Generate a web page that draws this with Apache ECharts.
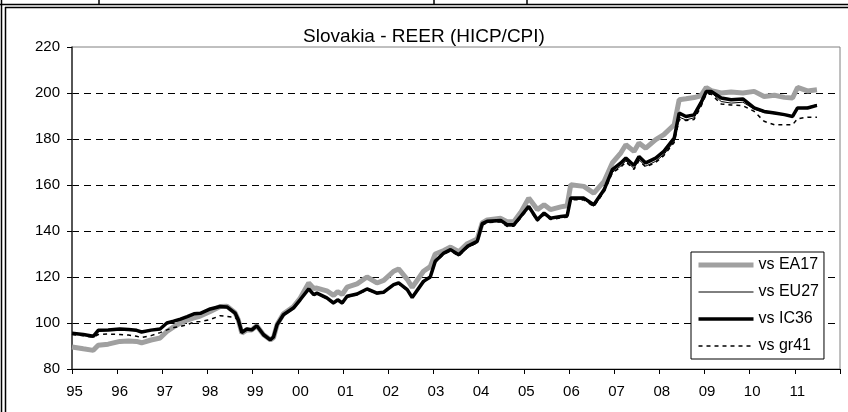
<!DOCTYPE html>
<html>
<head>
<meta charset="utf-8">
<script src="https://cdn.jsdelivr.net/npm/echarts@6/dist/echarts.min.js"></script>
<style>
	html, body { margin: 0; padding: 0; background: #fff; }
	#chart { width: 848px; height: 412px; }
</style>
</head>
<body>
<div id="chart"></div>
<script>
// time points (fractional years)
const years = [
	1995.00, 1995.25, 1995.47, 1995.58, 1995.80, 1996.06, 1996.25, 1996.43, 1996.54, 1996.75,
	1996.95, 1997.10, 1997.25, 1997.40, 1997.55, 1997.70, 1997.84, 1998.06, 1998.28, 1998.43,
	1998.61, 1998.68, 1998.76, 1998.87, 1998.98, 1999.09, 1999.24, 1999.39, 1999.46, 1999.54,
	1999.68, 1999.90, 2000.05, 2000.24, 2000.35, 2000.42, 2000.64, 2000.79, 2000.88, 2000.98,
	2001.09, 2001.31, 2001.53, 2001.75, 2001.90, 2002.12, 2002.23, 2002.42, 2002.53, 2002.78,
	2002.93, 2003.04, 2003.23, 2003.38, 2003.56, 2003.75, 2003.97, 2004.08, 2004.19, 2004.49,
	2004.63, 2004.78, 2004.93, 2005.11, 2005.30, 2005.45, 2005.59, 2005.82, 2005.96, 2006.04,
	2006.33, 2006.55, 2006.78, 2006.96, 2007.15, 2007.26, 2007.44, 2007.55, 2007.70, 2007.92,
	2008.10, 2008.33, 2008.44, 2008.59, 2008.77, 2008.92, 2009.04, 2009.15, 2009.37, 2009.59,
	2009.85, 2010.10, 2010.32, 2010.55, 2010.77, 2010.95, 2011.06, 2011.28, 2011.49
];

const ea17 = [
	89.6, 88.8, 88.1, 90.3, 90.8, 92.0, 92.2, 92.0, 91.4, 92.6,
	93.5, 96.3, 98.3, 100.0, 101.3, 102.2, 103.0, 105.0, 107.2, 107.3,
	104.5, 101.4, 95.6, 97.0, 97.0, 98.8, 94.9, 92.7, 93.6, 99.3,
	104.0, 107.0, 110.8, 117.4, 115.0, 115.2, 114.0, 112.0, 113.6, 112.4,
	115.6, 117.0, 120.0, 117.4, 118.5, 122.5, 123.5, 119.0, 115.5, 122.5,
	124.5, 130.0, 131.5, 133.0, 131.0, 134.5, 136.5, 143.5, 144.8, 145.5,
	144.0, 144.0, 148.0, 154.3, 149.3, 151.4, 149.3, 150.5, 151.0, 160.1,
	159.4, 156.5, 161.6, 169.6, 174.0, 177.5, 174.6, 178.3, 176.0, 179.7,
	181.9, 186.2, 197.1, 197.5, 198.0, 198.8, 202.4, 201.0, 200.0, 200.4,
	200.0, 200.7, 198.5, 199.0, 198.1, 197.8, 202.4, 200.9, 201.4
];

const eu27 = [
	95.3, 94.8, 94.0, 96.5, 96.8, 97.1, 97.0, 96.5, 95.9, 96.7,
	97.2, 99.6, 100.4, 101.3, 102.5, 103.7, 104.0, 105.8, 107.0, 106.8,
	104.2, 101.3, 95.8, 97.3, 96.9, 98.7, 94.8, 92.6, 93.8, 99.2,
	103.5, 106.4, 110.0, 114.6, 112.0, 112.8, 110.6, 108.3, 109.8, 108.4,
	111.3, 112.3, 114.5, 112.7, 113.1, 116.4, 117.1, 114.2, 110.9, 117.8,
	119.7, 126.4, 130.0, 131.5, 129.2, 132.8, 135.0, 142.8, 143.8, 144.2,
	142.2, 142.3, 145.8, 150.2, 144.5, 147.3, 145.2, 145.9, 146.2, 153.8,
	153.8, 150.8, 157.2, 165.5, 168.3, 170.5, 167.2, 171.0, 168.2, 170.3,
	173.2, 179.0, 189.5, 188.3, 189.2, 194.5, 200.0, 200.2, 196.3, 195.6,
	196.0, 193.0, 191.5, 191.0, 190.4, 189.8, 193.6, 193.8, 195.0
];

const ic36 = [
	95.5, 95.0, 94.2, 96.8, 97.0, 97.4, 97.2, 96.8, 96.1, 96.9,
	97.4, 100.0, 100.8, 101.7, 102.8, 104.0, 104.2, 106.1, 107.2, 107.0,
	104.3, 101.4, 95.9, 97.4, 97.0, 98.8, 94.9, 92.7, 93.9, 99.3,
	103.6, 106.5, 110.1, 114.8, 112.3, 113.0, 110.9, 108.7, 110.1, 108.7,
	111.6, 112.6, 114.8, 113.0, 113.4, 116.7, 117.4, 114.5, 111.1, 118.1,
	120.0, 126.8, 130.4, 131.9, 129.7, 133.3, 135.5, 143.2, 144.2, 144.6,
	142.7, 142.7, 146.3, 150.7, 144.9, 147.8, 145.6, 146.3, 146.6, 154.3,
	154.3, 151.4, 158.0, 166.7, 169.6, 171.7, 168.5, 172.4, 169.6, 171.7,
	174.6, 180.4, 191.3, 189.8, 190.5, 195.7, 200.7, 200.7, 197.8, 197.1,
	197.4, 193.5, 192.0, 191.3, 190.6, 189.8, 193.5, 193.5, 194.6
];

const gr41 = [
	95.0, 94.5, 93.8, 95.0, 95.2, 95.0, 94.8, 94.2, 93.7, 94.5,
	95.8, 97.0, 98.0, 98.5, 99.3, 100.4, 100.7, 101.5, 103.2, 102.8,
	102.5, 101.0, 95.6, 97.1, 96.8, 98.6, 94.7, 92.5, 93.7, 99.1,
	103.4, 106.3, 109.9, 114.5, 112.0, 112.7, 110.6, 108.4, 109.8, 108.4,
	111.3, 112.3, 114.4, 112.7, 113.1, 116.4, 117.0, 114.2, 110.8, 117.7,
	119.6, 126.3, 129.9, 131.4, 129.1, 132.7, 134.9, 142.6, 143.6, 144.0,
	142.0, 142.1, 145.6, 150.0, 144.3, 147.1, 145.0, 145.7, 146.0, 153.6,
	153.5, 150.6, 157.0, 165.2, 167.8, 170.0, 166.8, 170.6, 167.8, 169.8,
	172.8, 178.5, 188.5, 188.0, 188.5, 194.0, 199.5, 199.5, 195.2, 194.8,
	194.5, 192.0, 187.7, 186.2, 186.2, 186.2, 188.8, 189.5, 189.5
];

const seriesNames = ['vs EA17', 'vs EU27', 'vs IC36', 'vs gr41'];

function pairs(vals) {
	return years.map(function (y, i) { return [y, vals[i]]; });
}

const font = '"Liberation Sans", Arial, sans-serif';

let myChart = echarts.init(document.getElementById('chart'));
myChart.setOption({
	animation: false,
	backgroundColor: '#fff',
	textStyle: { fontFamily: font },
	title: {
		text: 'Slovakia - REER (HICP/CPI)',
		left: 'center',
		top: 22,
		textStyle: {
			fontFamily: font,
			fontSize: 19,
			fontWeight: 'normal',
			color: '#000'
		}
	},
	grid: {
		left: 72,
		right: 8,
		top: 47,
		bottom: 43,
		show: true,
		borderColor: '#808080',
		borderWidth: 1
	},
	legend: {
		orient: 'vertical',
		left: 691,
		top: 252,
		itemWidth: 55,
		itemHeight: 14,
		itemGap: 11,
		padding: [5, 5, 5, 5],
		borderColor: '#000',
		borderWidth: 1,
		backgroundColor: '#fff',
		itemStyle: { opacity: 0, color: 'rgba(0,0,0,0)', borderWidth: 0 },
		textStyle: {
			fontFamily: font,
			fontSize: 16,
			color: '#000'
		},
		data: [
			{ name: seriesNames[0], lineStyle: { color: '#a0a0a0', width: 5 } },
			{ name: seriesNames[1], lineStyle: { color: '#000', width: 1 } },
			{ name: seriesNames[2], lineStyle: { color: '#000', width: 3.5 } },
			{ name: seriesNames[3], lineStyle: { color: '#000', width: 1.5, type: [4, 4] } }
		]
	},
	xAxis: {
		type: 'value',
		min: 1995,
		max: 2012,
		interval: 1,
		axisLine: {
			show: true,
			lineStyle: { color: '#000', width: 1 }
		},
		axisTick: {
			show: true,
			length: 5,
			lineStyle: { color: '#000' }
		},
		axisLabel: {
			color: '#000',
			fontSize: 15,
			margin: 15,
			padding: [0, 0, 0, 5],
			formatter: function (v) {
				return v >= 2012 ? '' : String(v).slice(2);
			}
		},
		splitLine: { show: false }
	},
	yAxis: {
		type: 'value',
		min: 80,
		max: 220,
		interval: 20,
		axisLine: {
			show: true,
			lineStyle: { color: '#333', width: 1.5 }
		},
		axisTick: {
			show: true,
			length: 5,
			lineStyle: { color: '#000' }
		},
		axisLabel: {
			color: '#000',
			fontSize: 15,
			margin: 12
		},
		splitLine: {
			show: true,
			showMinLine: false,
			showMaxLine: false,
			lineStyle: {
				color: '#000',
				width: 1,
				type: [7, 5]
			}
		}
	},
	series: [
		{
			name: seriesNames[0],
			type: 'line',
			symbol: 'none',
			lineStyle: { color: '#a0a0a0', width: 5 },
			itemStyle: { color: '#a0a0a0' },
			data: pairs(ea17)
		},
		{
			name: seriesNames[1],
			type: 'line',
			symbol: 'none',
			lineStyle: { color: '#000', width: 1 },
			itemStyle: { color: '#000' },
			data: pairs(eu27)
		},
		{
			name: seriesNames[2],
			type: 'line',
			symbol: 'none',
			lineStyle: { color: '#000', width: 3.5 },
			itemStyle: { color: '#000' },
			data: pairs(ic36)
		},
		{
			name: seriesNames[3],
			type: 'line',
			symbol: 'none',
			lineStyle: { color: '#000', width: 1.5, type: [4, 4] },
			itemStyle: { color: '#000' },
			data: pairs(gr41)
		}
	],
	// double frame lines of the surrounding table
	graphic: [
		{ type: 'line', shape: { x1: 0, y1: 4.5, x2: 848, y2: 4.5 }, style: { stroke: '#000', lineWidth: 1.5 } },
		{ type: 'line', shape: { x1: 5, y1: 7.5, x2: 848, y2: 7.5 }, style: { stroke: '#000', lineWidth: 1.5 } },
		{ type: 'line', shape: { x1: 1.5, y1: 0, x2: 1.5, y2: 412 }, style: { stroke: '#000', lineWidth: 1.5 } },
		{ type: 'line', shape: { x1: 5.5, y1: 7, x2: 5.5, y2: 412 }, style: { stroke: '#000', lineWidth: 1.5 } },
		{ type: 'line', shape: { x1: 99, y1: 0, x2: 99, y2: 4 }, style: { stroke: '#000', lineWidth: 1.5 } },
		{ type: 'line', shape: { x1: 434, y1: 0, x2: 434, y2: 4 }, style: { stroke: '#000', lineWidth: 1.5 } },
		{ type: 'line', shape: { x1: 527, y1: 0, x2: 527, y2: 4 }, style: { stroke: '#000', lineWidth: 1.5 } }
	]
});
</script>
</body>
</html>
